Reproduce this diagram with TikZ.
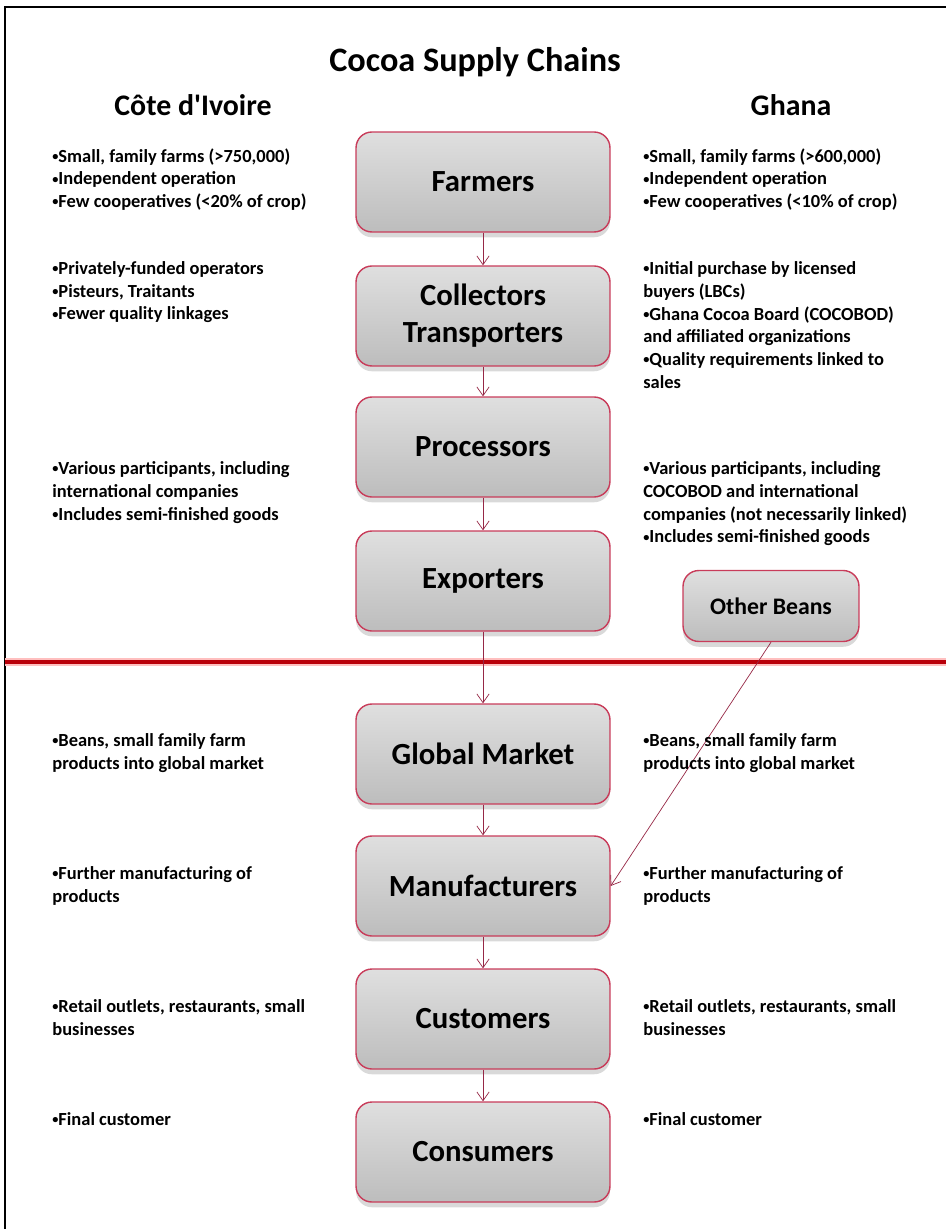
\documentclass[tikz,border=0pt]{standalone}
\usepackage{fontspec}
\setmainfont{Carlito}
\usetikzlibrary{arrows.meta,shadows}

\definecolor{boxline}{RGB}{200,60,90}
\definecolor{arrowline}{RGB}{150,40,70}
\definecolor{divider}{RGB}{185,0,10}

\newcommand{\bul}{\raisebox{.2ex}{\fontsize{7}{7}\selectfont•}}

\tikzset{
 stage/.style={draw=boxline,thick,rounded corners=9pt,top color=gray!25,bottom color=gray!52,
   minimum width=5.08cm,minimum height=2cm,align=center,
   font=\fontsize{17.5}{21}\selectfont\bfseries,
   drop shadow={opacity=.3,shadow xshift=0pt,shadow yshift=-3pt}},
 note/.style={anchor=north west,align=left,inner sep=0pt,font=\fontsize{10.5}{13}\selectfont\bfseries},
 head/.style={font=\fontsize{17}{21}\selectfont\bfseries},
 flow/.style={draw=arrowline,-{Straight Barb[length=5pt,width=7pt]}}
}

\begin{document}
\begin{tikzpicture}[x=0.02cm,y=-0.02cm]
 \useasboundingbox (0,0) rectangle (946,1229);
 \draw[line width=1.5pt] (5,1229) -- (5,7) -- (946,7);
 \node[head,font=\fontsize{19.5}{23}\selectfont\bfseries] (title) at (475,62) {Cocoa Supply Chains};
 \node[head] (civ) at (193,105) {Côte d\textquotesingle Ivoire};
 \node[head] (gha) at (791,105) {Ghana};

 \draw[red!25,line width=4pt] (5,662) -- (946,662);
 \draw[divider,line width=1.8pt] (5,662) -- (946,662);

 \node[stage] (farmers) at (483,182) {Farmers};
 \node[stage] (collectors) at (483,316) {Collectors\\Transporters};
 \node[stage] (processors) at (483,447) {Processors};
 \node[stage] (exporters) at (483,581) {Exporters};
 \node[stage] (market) at (483,754) {Global Market};
 \node[stage] (makers) at (483,886) {Manufacturers};
 \node[stage] (customers) at (483,1019) {Customers};
 \node[stage] (consumers) at (483,1152) {Consumers};
 \node[stage,minimum width=3.52cm,minimum height=1.42cm,font=\fontsize{13.5}{16}\selectfont\bfseries] (beans) at (771,606) {Other Beans};

 \draw[flow] (farmers) -- (collectors);
 \draw[flow] (collectors) -- (processors);
 \draw[flow] (processors) -- (exporters);
 \draw[flow] (exporters) -- (market);
 \draw[flow] (market) -- (makers);
 \draw[flow] (makers) -- (customers);
 \draw[flow] (customers) -- (consumers);
 \draw[flow] (beans.south) -- (makers.east);

 % Cote d'Ivoire
 \node[note] (civ1) at (52,148) {\bul Small, family farms (>750,000)\\\bul Independent operation\\\bul Few cooperatives (<20\% of crop)};
 \node[note] (civ2) at (52,261) {\bul Privately-funded operators\\\bul Pisteurs, Traitants\\\bul Fewer quality linkages};
 \node[note] (civ3) at (52,461) {\bul Various participants, including\\international companies\\\bul Includes semi-finished goods};
 \node[note] (civ4) at (52,733) {\bul Beans, small family farm\\products into global market};
 \node[note] (civ5) at (52,866) {\bul Further manufacturing of\\products};
 \node[note] (civ6) at (52,999) {\bul Retail outlets, restaurants, small\\businesses};
 \node[note] (civ7) at (52,1112) {\bul Final customer};

 % Ghana
 \node[note] (gha1) at (643,148) {\bul Small, family farms (>600,000)\\\bul Independent operation\\\bul Few cooperatives (<10\% of crop)};
 \node[note] (gha2) at (643,261) {\bul Initial purchase by licensed\\buyers (LBCs)\\\bul Ghana Cocoa Board (COCOBOD)\\and affiliated organizations\\\bul Quality requirements linked to\\sales};
 \node[note] (gha3) at (643,461) {\bul Various participants, including\\COCOBOD and international\\companies (not necessarily linked)\\\bul Includes semi-finished goods};
 \node[note] (gha4) at (643,733) {\bul Beans, small family farm\\products into global market};
 \node[note] (gha5) at (643,866) {\bul Further manufacturing of\\products};
 \node[note] (gha6) at (643,999) {\bul Retail outlets, restaurants, small\\businesses};
 \node[note] (gha7) at (643,1112) {\bul Final customer};
\end{tikzpicture}
\end{document}
